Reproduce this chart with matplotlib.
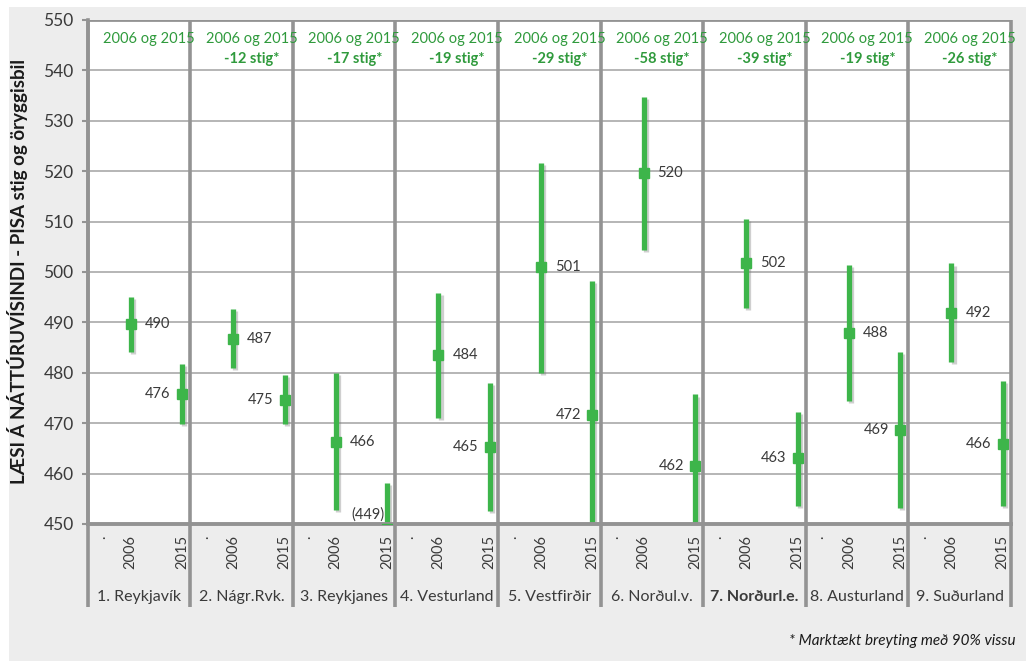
import numpy as np
import matplotlib
matplotlib.use("Agg")
import matplotlib.pyplot as plt
import matplotlib.patheffects as pe
from matplotlib.patches import Rectangle

plt.rcParams['font.family'] = ['Lato', 'DejaVu Sans']

# data
groups = ["1. Reykjavík", "2. Nágr.Rvk.", "3. Reykjanes", "4. Vesturland", "5. Vestfirðir",
          "6. Norðul.v.", "7. Norðurl.e.", "8. Austurland", "9. Suðurland"]
tick_names = [".", "2006", "2015"]
mean_2006 = [489.7, 486.7, 466.2, 483.6, 500.9, 519.7, 501.7, 487.9, 491.8]
lo_2006 = [484.2, 480.9, 452.8, 471.0, 479.9, 504.4, 492.8, 474.5, 482.2]
hi_2006 = [495.1, 492.6, 480.0, 495.9, 521.6, 534.8, 510.5, 501.4, 501.7]
mean_2015 = [475.7, 474.6, 449.0, 465.2, 471.6, 461.6, 463.0, 468.7, 465.9]
lo_2015 = [469.8, 469.8, 445.0, 452.6, 449.0, 449.0, 453.6, 453.1, 453.6]
hi_2015 = [481.7, 479.5, 458.1, 478.0, 498.3, 475.7, 472.2, 484.1, 478.4]
labels_2006 = ["490", "487", "466", "484", "501", "520", "502", "488", "492"]
labels_2015 = ["476", "475", "(449)", "465", "472", "462", "463", "469", "466"]
change = ["", "-12", "-17", "-19", "-29", "-58", "-39", "-19", "-26"]
bold_group = "7. Norðurl.e."

# layout
slot_off = [0.135, 0.42, 0.92]
bar_col = "#3db54a"
head_col = "#2f9a3c"
grid_col = "#b0b0b0"
sep_col = "#939393"
txt_col = "#3a3a3a"

fig = plt.figure(figsize=(10.26, 6.62), dpi=100)
fig.patch.set_facecolor("white")
bg = Rectangle((9 / 1026, 1 / 662), 1 - 9 / 1026, (655 - 1) / 662,
               transform=fig.transFigure, facecolor="#ededed", edgecolor="none", zorder=-5)
fig.patches.append(bg)

ax = fig.add_axes([87.5 / 1026, 138 / 662, 923.5 / 1026, 504 / 662])
ax.set_zorder(1)
ax.set_facecolor("white")
ax.set_xlim(0, len(groups))
ax.set_ylim(450, 550)
for s in ax.spines.values():
    s.set_visible(False)

# horizontal grid
yt = np.arange(450, 551, 10)
for y in yt[1:-1]:
    ax.axhline(y, color=grid_col, lw=1.3, zorder=1)
ax.axhline(550, color=sep_col, lw=2.0, zorder=1)
ax.axhline(450, color=sep_col, lw=2.8, zorder=4, clip_on=False)

# group separators (extend below plot)
trans = ax.get_xaxis_transform()
for i in range(len(groups) + 1):
    ax.plot([i, i], [1, -0.165], color=sep_col, lw=2.6, transform=trans,
            clip_on=False, zorder=5, solid_capstyle="butt")

shadow = [pe.SimpleLineShadow(offset=(1.5, -1.5), shadow_color="#777777", alpha=0.35),
          pe.Normal()]

x06 = np.arange(len(groups)) + slot_off[1]
x15 = np.arange(len(groups)) + slot_off[2]
ax.vlines(x06, lo_2006, hi_2006, color=bar_col, lw=3.8, zorder=3, path_effects=shadow)
ax.vlines(x15, lo_2015, hi_2015, color=bar_col, lw=3.8, zorder=3, path_effects=shadow)
ax.plot(x06, mean_2006, "s", color=bar_col, ms=6.5, mec=bar_col, zorder=4)
ax.plot(x15, mean_2015, "s", color=bar_col, ms=6.5, mec=bar_col, zorder=4)

for i in range(len(groups)):
    ax.annotate(labels_2006[i], (x06[i], mean_2006[i]), xytext=(10, 0),
                textcoords="offset points", ha="left", va="center",
                fontsize=10.5, color=txt_col)
    y15 = max(mean_2015[i], 451.8)
    off = -8 if mean_2015[i] >= 450 else -2
    ax.annotate(labels_2015[i], (x15[i], y15), xytext=(off, 0),
                textcoords="offset points", ha="right", va="center",
                fontsize=10.5, color=txt_col)
    # header text
    ax.text(i + 0.6, 0.962, "2006 og 2015", transform=trans, ha="center",
            va="center", fontsize=10.5, color=head_col, zorder=7)
    if change[i]:
        ax.text(i + 0.6, 0.9226, change[i] + " stig*", transform=trans, ha="center",
                va="center", fontsize=10.5, color=head_col, fontweight="bold", zorder=7)
    # category label
    ax.text(i + 0.5, -0.144, groups[i], transform=trans, ha="center", va="center",
            fontsize=11.5, color=txt_col, zorder=7,
            fontweight="bold" if groups[i] == bold_group else "normal")

# x ticks
xticks = [i + o for i in range(len(groups)) for o in slot_off]
ax.set_xticks(xticks)
ax.set_xticklabels(tick_names * len(groups), rotation=90, fontsize=10.5, color=txt_col)
ax.tick_params(axis="x", length=0, pad=8)

ax.set_yticks(yt)
ax.set_yticklabels([str(v) for v in yt], fontsize=12.5, color=txt_col)
ax.tick_params(axis="y", length=4, width=1.5, color=sep_col, pad=6)
ax.plot([0, 0], [0, 1], color=sep_col, lw=2.6, transform=ax.transAxes, clip_on=False, zorder=5)

ax.set_ylabel("LÆSI Á NÁTTÚRUVÍSINDI - PISA stig og öryggisbil", fontsize=13.5,
              fontweight="bold", color="#1a1a1a")
ax.yaxis.set_label_coords(-0.0644, 0.5)

fig.text(1016 / 1026, 1 - 641 / 662, "* Marktækt breyting með 90% vissu", ha="right",
         va="center", fontsize=11, style="italic", color="#1a1a1a")

fig.savefig("out.png", dpi=100)
